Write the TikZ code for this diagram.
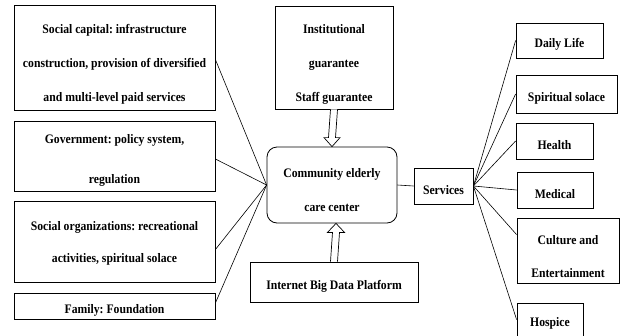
\documentclass[tikz,border=0pt]{standalone}
\usepackage{fontspec}
\setmainfont{Liberation Serif}[FakeStretch=0.9]
\usetikzlibrary{calc}
\frenchspacing
\newcommand\upby[1]{\rule{0pt}{#1pt}}
\tikzset{
  box/.style={draw, line width=0.8pt, inner sep=0pt, align=center,
    font={\bfseries\fontsize{13}{34}\selectfont}},
  onebox/.style={box, execute at begin node={\rule{0pt}{17pt}}},
  conn/.style={line width=0.6pt},
  hollow/.style={draw, line width=0.7pt, fill=white}
}
\begin{document}
\begin{tikzpicture}[x=1pt,y=-1pt]
\useasboundingbox (0,0) rectangle (620,335);
\clip (0,0) rectangle (620,335);
% left boxes
\node[box, minimum width=201, minimum height=105] (sc) at (114.5,57.5)
  {\upby{23}Social capital: infrastructure\\construction, provision of diversified\\and multi-level paid services};
\node[box, minimum width=201, minimum height=70] (gov) at (114.5,156)
  {\upby{17}Government: policy system,\\[6pt]regulation};
\node[box, minimum width=201, minimum height=81] (so) at (114.5,241.5)
  {\upby{13}Social organizations: recreational\\[-2pt]activities, spiritual solace};
\node[onebox, minimum width=201, minimum height=26] (fam) at (114.5,306)
  {Family: Foundation};
% center
\node[box, minimum width=118, minimum height=103] (inst) at (334,57.5)
  {\upby{23}Institutional\\guarantee\\Staff guarantee};
\node[box, rounded corners=10pt, minimum width=130, minimum height=76] (cec) at (332,185)
  {\upby{19}Community elderly\\care center};
\node[onebox, minimum width=168, minimum height=40] (net) at (334,282)
  {Internet Big Data Platform};
\node[onebox, minimum width=59, minimum height=36] (srv) at (443.5,186)
  {Services};
% right boxes
\node[onebox, minimum width=87, minimum height=35] (dl) at (559.5,40.5) {Daily Life};
\node[onebox, minimum width=101, minimum height=38] (ss) at (566.5,94) {Spiritual solace};
\node[onebox, minimum width=77, minimum height=36] (hl) at (554.5,141) {Health};
\node[onebox, minimum width=76, minimum height=36] (md) at (555,190) {Medical};
\node[box, minimum width=102, minimum height=65] (ce) at (568,250.5) {\upby{21}Culture and\\[-1pt]Entertainment};
\node[draw, line width=0.8pt, minimum width=66, minimum height=60] (hs) at (550,333) {};
\node[font={\bfseries\fontsize{13}{14}\selectfont}, inner sep=0pt] (hst) at (550,323) {Hospice};
% connectors left
\draw[conn] ($(sc.east)+(0,2)$) -- (cec.west);
\draw[conn] ($(gov.east)+(0,3)$) -- (cec.west);
\draw[conn] ($(so.east)+(0,8)$) -- (cec.west);
\draw[conn] ($(fam.east)+(0,-3)$) -- (cec.west);
\draw[conn] (cec.east) -- (srv.west);
% connectors right
\draw[conn] (srv.east) -- (dl.west);
\draw[conn] (srv.east) -- (ss.west);
\draw[conn] (srv.east) -- (hl.west);
\draw[conn] (srv.east) -- (md.west);
\draw[conn] (srv.east) -- ($(ce.north west)+(0,17)$);
\draw[conn] (srv.east) -- ($(hs.north west)+(0,17)$);
% hollow arrows
\draw[hollow] ($(inst.south)+(-3.5,0)$) -- ($(cec.north)+(-3.5,-9)$) -- ($(cec.north)+(-8,-9)$)
  -- ($(cec.north)+(0,0)$) -- ($(cec.north)+(8,-9)$) -- ($(cec.north)+(3.5,-9)$)
  -- ($(inst.south)+(3.5,0)$);
\draw[hollow] ($(net.north)+(-3.5,0)$) -- ($(cec.south)+(0.5,9)$) -- ($(cec.south)+(-4.5,9)$)
  -- ($(cec.south)+(4,0)$) -- ($(cec.south)+(12.5,9)$) -- ($(cec.south)+(7.5,9)$)
  -- ($(net.north)+(3.5,0)$);
\end{tikzpicture}
\end{document}
